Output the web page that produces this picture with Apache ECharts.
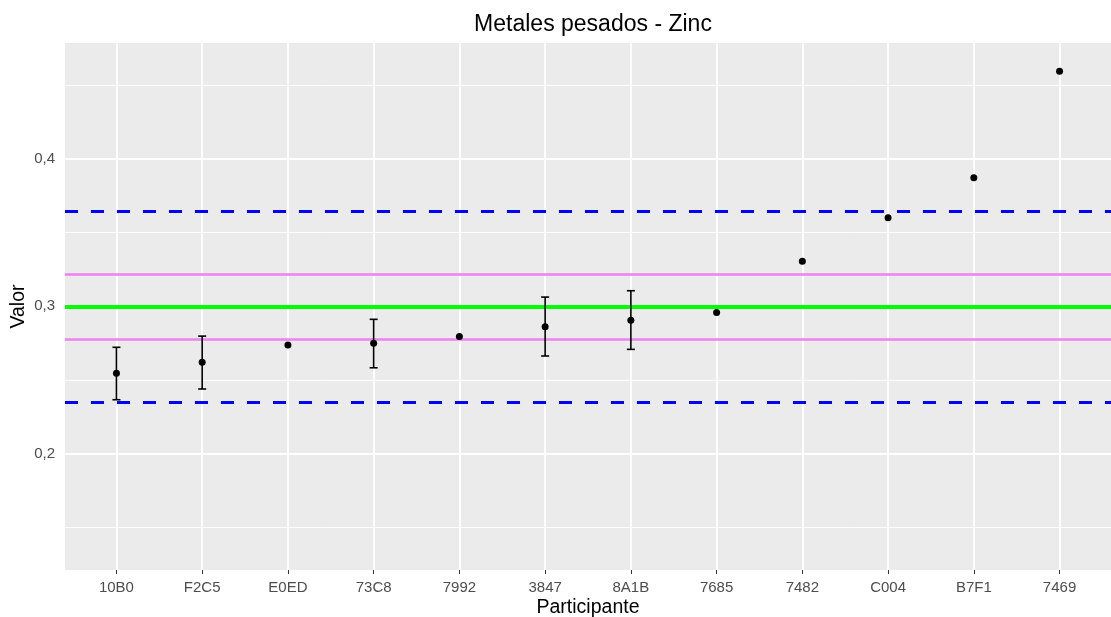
<!DOCTYPE html>
<html>
<head>
<meta charset="utf-8">
<script src="https://cdn.jsdelivr.net/npm/echarts@6/dist/echarts.min.js"></script>
<style>html,body{margin:0;padding:0;background:#fff}#c{width:1111px;height:617px}</style>
</head>
<body>
<div id="c"></div>
<script>
const categories = ['10B0','F2C5','E0ED','73C8','7992','3847','8A1B','7685','7482','C004','B7F1','7469'];
const values = [0.2545,0.2620,0.2737,0.2749,0.2796,0.2862,0.2905,0.2959,0.3306,0.3602,0.3873,0.4597];
const errLow = [0.2366,0.2439,null,0.2583,null,0.2663,0.2708,null,null,null,null,null];
const errHigh = [0.2722,0.2798,null,0.2912,null,0.3063,0.3106,null,null,null,null,null];
const assignedValue = 0.2997;
const innerLimits = [0.2776, 0.3217];
const outerLimits = [0.2346, 0.3647];
const yTickValues = [0.2, 0.3, 0.4];
const yMinorValues = [0.15, 0.25, 0.35, 0.45];

const FONT = '"Liberation Sans", Arial, sans-serif';
const xIdx = categories.map((c, i) => i);

const chart = echarts.init(document.getElementById('c'));
const pointData = values.map((v, i) => [i, v]);
const errData = [];
errLow.forEach((lo, i) => { if (lo != null && errHigh[i] != null) errData.push([i, lo, errHigh[i]]); });

const line = (color, width, type) => ({ color, width, type, opacity: 1 });

chart.setOption({
  animation: false,
  backgroundColor: '#ffffff',
  title: {
    text: 'Metales pesados - Zinc',
    left: 588, top: 8, textAlign: 'center',
    textStyle: { fontFamily: FONT, fontSize: 23, fontWeight: 'normal', color: '#000' }
  },
  grid: { left: 65, right: 0, top: 43, bottom: 47, show: true, backgroundColor: '#EBEBEB', borderWidth: 0,
    containLabel: false, outerBoundsMode: 'none' },
  xAxis: {
    type: 'value', min: -0.6, max: 11.6,
    name: 'Participante', nameLocation: 'middle', nameGap: 28, nameMoveOverlap: false,
    nameTextStyle: { fontFamily: FONT, fontSize: 19.5, color: '#000' },
    axisLine: { show: false },
    axisTick: { show: true, length: 4, lineStyle: { color: '#333', width: 1 }, customValues: xIdx },
    axisLabel: { show: true, margin: 10, fontFamily: FONT, fontSize: 15, color: '#4D4D4D', customValues: xIdx,
      formatter: v => categories[Math.round(v)] || '' },
    splitLine: { show: false }
  },
  yAxis: {
    type: 'value', min: 0.121, max: 0.4788,
    name: 'Valor', nameLocation: 'middle', nameGap: 36, nameMoveOverlap: false,
    nameTextStyle: { fontFamily: FONT, fontSize: 19.5, color: '#000' },
    axisLine: { show: false },
    axisTick: { show: true, length: 4, lineStyle: { color: '#333', width: 1 }, customValues: yTickValues },
    axisLabel: { show: true, margin: 10, fontFamily: FONT, fontSize: 15, color: '#4D4D4D', customValues: yTickValues,
      formatter: v => v.toFixed(1).replace('.', ',') },
    splitLine: { show: false }
  },
  series: [
    {
      type: 'line', data: [], z: 1, silent: true,
      markLine: {
        z: 1, precision: 6,
        silent: true, symbol: ['none', 'none'], label: { show: false }, animation: false,
        data: [
          ...xIdx.map(i => ({ xAxis: i, lineStyle: line('#FFFFFF', 1.8, 'solid') })),
          ...yTickValues.map(v => ({ yAxis: v, lineStyle: line('#FFFFFF', 1.8, 'solid') })),
          ...yMinorValues.map(v => ({ yAxis: v, lineStyle: line('#FFFFFF', 0.9, 'solid') }))
        ]
      }
    },
    {
      type: 'line', data: [], z: 2, silent: true,
      markLine: {
        z: 2, precision: 6,
        silent: true, symbol: ['none', 'none'], label: { show: false }, animation: false,
        data: [
          { yAxis: outerLimits[0], lineStyle: line('#0000FF', 3, [13, 13]) },
          { yAxis: outerLimits[1], lineStyle: line('#0000FF', 3, [13, 13]) },
          { yAxis: innerLimits[0], lineStyle: line('#EE82EE', 2.6, 'solid') },
          { yAxis: innerLimits[1], lineStyle: line('#EE82EE', 2.6, 'solid') },
          { yAxis: assignedValue, lineStyle: line('#00FF00', 4, 'solid') }
        ]
      }
    },
    {
      type: 'custom', z: 3, silent: true,
      data: errData,
      renderItem: function (params, api) {
        const x = api.value(0);
        const lo = api.coord([x, api.value(1)]);
        const hi = api.coord([x, api.value(2)]);
        const hw = 4;
        const st = { stroke: '#000', lineWidth: 1.6 };
        return {
          type: 'group',
          children: [
            { type: 'line', shape: { x1: lo[0], y1: lo[1], x2: hi[0], y2: hi[1] }, style: st },
            { type: 'line', shape: { x1: lo[0] - hw, y1: lo[1], x2: lo[0] + hw, y2: lo[1] }, style: st },
            { type: 'line', shape: { x1: hi[0] - hw, y1: hi[1], x2: hi[0] + hw, y2: hi[1] }, style: st }
          ]
        };
      }
    },
    {
      type: 'scatter', z: 4, silent: true,
      data: pointData, symbol: 'circle', symbolSize: 7,
      itemStyle: { color: '#000', opacity: 1 }
    }
  ]
});
</script>
</body>
</html>
